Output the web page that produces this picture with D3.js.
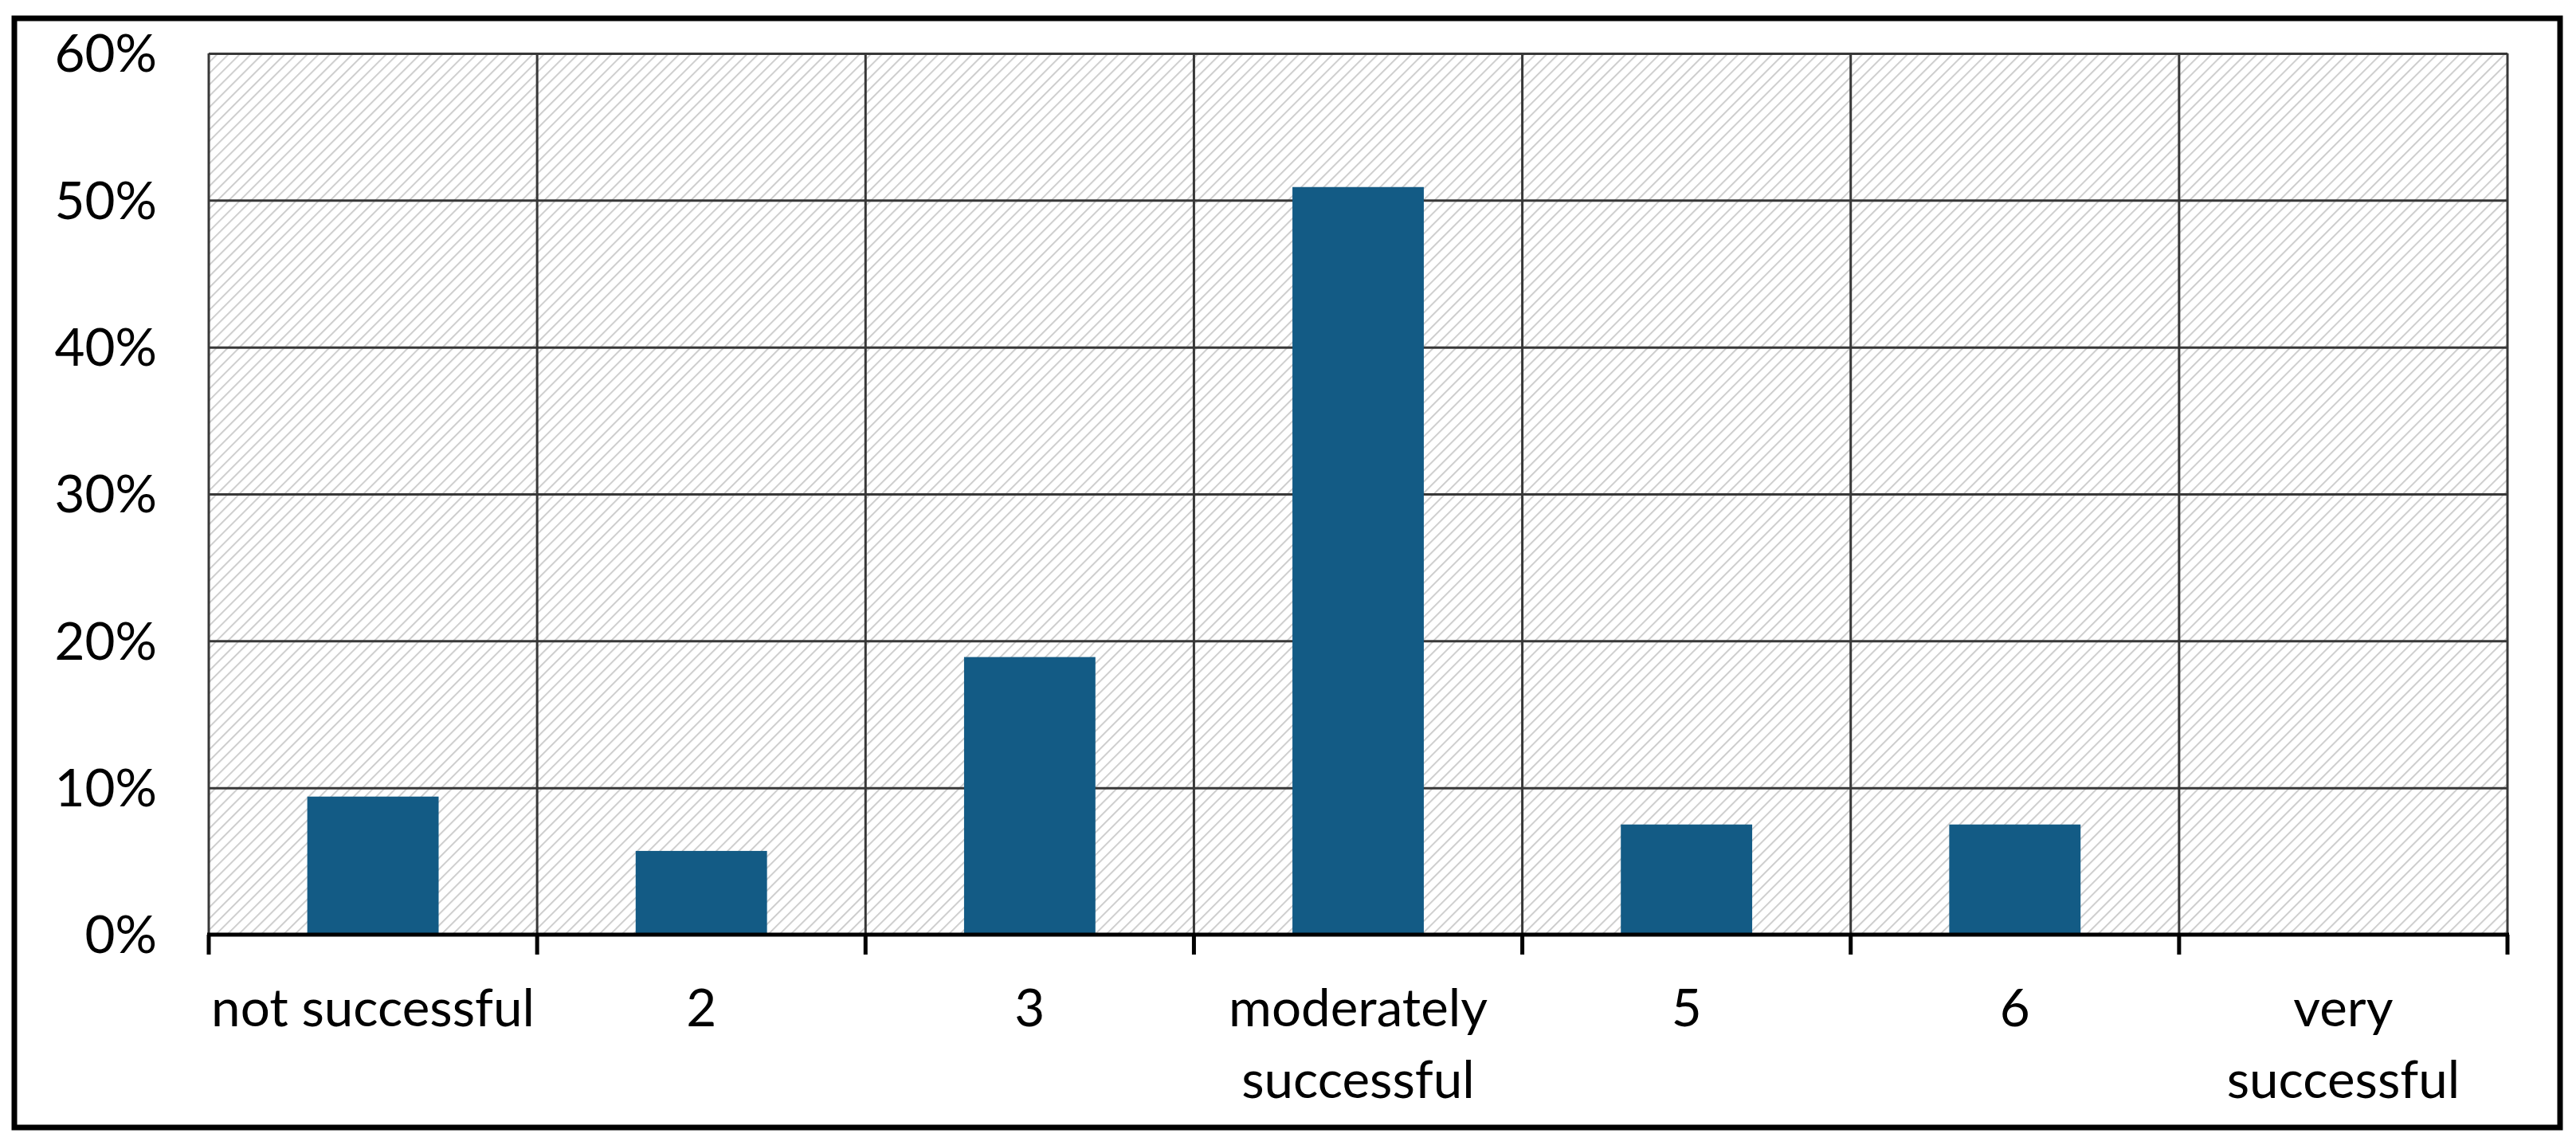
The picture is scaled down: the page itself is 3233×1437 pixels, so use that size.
<!DOCTYPE html>
<html>
<head>
<meta charset="utf-8">
<script src="https://cdn.jsdelivr.net/npm/d3@7"></script>
<style>
  body { margin: 0; background: #fff; }
  text { font-family: Lato, "Open Sans", sans-serif; fill: #000; }
</style>
</head>
<body>
<svg width="3233" height="1437"></svg>
<script>
// survey answers, share of respondents in %
var categories = ["not successful", "2", "3", "moderately\nsuccessful", "5", "6", "very\nsuccessful"];
var shares = [9.4, 5.7, 18.9, 50.9, 7.5, 7.5, 0];
var yTicks = [0, 10, 20, 30, 40, 50, 60];

var svg = d3.select("svg"),
    width = +svg.attr("width"),
    height = +svg.attr("height");

// (window.top is taken, hence the plot* names)
var plotLeft = 262, plotRight = 3147, plotTop = 67, plotBottom = 1173;

var x = d3.scaleBand()
  .domain(categories)
  .range([plotLeft, plotRight])
  .paddingInner(0.6)
  .paddingOuter(0.3);

var y = d3.scaleLinear()
  .domain([0, 60])
  .range([plotBottom, plotTop]);

// pick a font size so the labels come out about as wide as in the picture
var probe = svg.append("text").attr("font-size", 100).text("not successful");
var fontSize = 100 * 406 / probe.node().getComputedTextLength();
probe.remove();

var defs = svg.append("defs");
var hatch = defs.append("pattern")
  .attr("id", "hatch")
  .attr("patternUnits", "userSpaceOnUse")
  .attr("width", 10)
  .attr("height", 10)
  .attr("patternTransform", "rotate(45)");
hatch.append("rect").attr("width", 10).attr("height", 10).attr("fill", "#fff");
hatch.append("line")
  .attr("x1", 0).attr("y1", 0).attr("x2", 0).attr("y2", 10)
  .attr("stroke", "#c9c9c9")
  .attr("stroke-width", 3.6);

// hatched plot background
svg.append("rect")
  .attr("x", plotLeft)
  .attr("y", plotTop)
  .attr("width", plotRight - plotLeft)
  .attr("height", plotBottom - plotTop)
  .attr("fill", "url(#hatch)");

// category boundaries
var half = (x.step() - x.bandwidth()) / 2;
var bounds = categories.map(function(c) { return x(c) - half; }).concat([plotRight]);

// horizontal grid
svg.append("g")
  .attr("class", "grid")
  .attr("transform", "translate(" + plotLeft + ",0)")
  .call(d3.axisLeft(y).tickValues(yTicks).tickSize(-(plotRight - plotLeft)).tickFormat(""))
  .call(function(g) {
    g.select(".domain").remove();
    g.selectAll("line").attr("stroke", "#383838").attr("stroke-width", 3);
  });

// vertical grid
svg.append("g")
  .selectAll("line")
  .data(bounds)
  .enter().append("line")
  .attr("x1", function(d) { return d; })
  .attr("x2", function(d) { return d; })
  .attr("y1", plotTop)
  .attr("y2", plotBottom)
  .attr("stroke", "#383838")
  .attr("stroke-width", 3);

// bars
svg.append("g")
  .selectAll("rect")
  .data(shares)
  .enter().append("rect")
  .attr("x", function(d, i) { return x(categories[i]); })
  .attr("width", x.bandwidth())
  .attr("y", function(d) { return y(d); })
  .attr("height", function(d) { return plotBottom - y(d); })
  .attr("fill", "#135b85");

// y labels
svg.append("g")
  .attr("transform", "translate(" + plotLeft + ",0)")
  .call(d3.axisLeft(y).tickValues(yTicks).tickSize(0).tickPadding(65)
    .tickFormat(function(d) { return d + "%"; }))
  .call(function(g) {
    g.select(".domain").remove();
    g.selectAll("text")
      .attr("font-size", fontSize)
      .attr("font-family", null)
      .attr("dy", "0.35em");
  });

// x axis line and ticks
svg.append("line")
  .attr("x1", plotLeft - 2).attr("x2", plotRight + 2)
  .attr("y1", plotBottom).attr("y2", plotBottom)
  .attr("stroke", "#000")
  .attr("stroke-width", 5);

svg.append("g")
  .selectAll("line")
  .data(bounds)
  .enter().append("line")
  .attr("x1", function(d) { return d; })
  .attr("x2", function(d) { return d; })
  .attr("y1", plotBottom)
  .attr("y2", plotBottom + 25)
  .attr("stroke", "#000")
  .attr("stroke-width", 5);

// x labels
var labels = svg.append("g")
  .selectAll("text")
  .data(categories)
  .enter().append("text")
  .attr("text-anchor", "middle")
  .attr("font-size", fontSize)
  .attr("x", function(d) { return x(d) + x.bandwidth() / 2; })
  .attr("y", plotBottom + 115);

labels.selectAll("tspan")
  .data(function(d) { return d.split("\n"); })
  .enter().append("tspan")
  .attr("x", function() { return d3.select(this.parentNode).attr("x"); })
  .attr("dy", function(d, i) { return i ? 90 : 0; })
  .text(function(d) { return d; });

// outer frame
svg.append("rect")
  .attr("x", 18)
  .attr("y", 23)
  .attr("width", 3213 - 18)
  .attr("height", 1415 - 23)
  .attr("fill", "none")
  .attr("stroke", "#000")
  .attr("stroke-width", 7);
</script>
</body>
</html>
